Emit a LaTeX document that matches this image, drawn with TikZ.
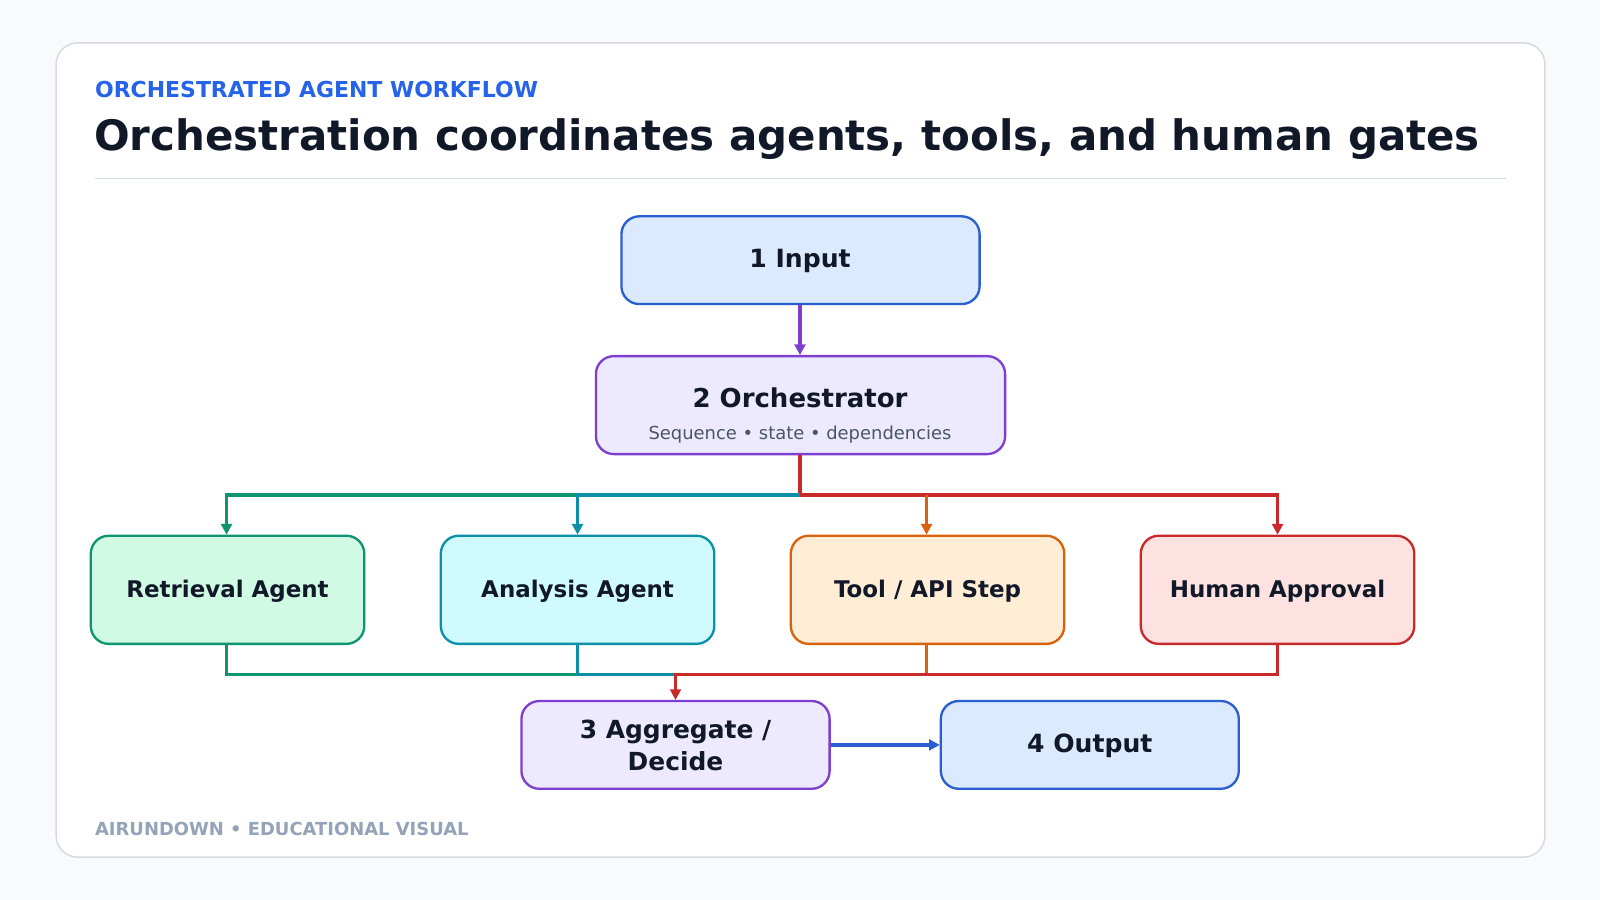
\documentclass[tikz,border=0pt]{standalone}
\usepackage{fontspec}
\setmainfont{DejaVu Sans}
\usetikzlibrary{arrows.meta}
\definecolor{bg}{HTML}{F8FAFC}
\definecolor{cardline}{HTML}{D5DAE1}
\definecolor{blueA}{HTML}{2B5FD0}
\definecolor{blueF}{HTML}{DBEAFE}
\definecolor{purA}{HTML}{7E3FD0}
\definecolor{purF}{HTML}{EDE9FE}
\definecolor{grnA}{HTML}{0E9470}
\definecolor{grnF}{HTML}{D1FAE5}
\definecolor{tealA}{HTML}{0E8FA8}
\definecolor{tealF}{HTML}{CFFAFE}
\definecolor{orA}{HTML}{D9620F}
\definecolor{orF}{HTML}{FFEDD5}
\definecolor{redA}{HTML}{C82A2A}
\definecolor{redF}{HTML}{FEE2E2}
\definecolor{ink}{HTML}{111827}
\definecolor{sub}{HTML}{4B5563}
\definecolor{foot}{HTML}{94A3B8}
\definecolor{kick}{HTML}{2563EB}
\begin{document}
\begin{tikzpicture}[x=0.02cm,y=-0.02cm,
  box/.style={draw=#1A,fill=#1F,line width=1.3pt,rounded corners=10pt},
  lbl/.style={font=\bfseries\fontsize{14}{18}\selectfont,text=ink,align=center},
  albl/.style={lbl,font=\bfseries\fontsize{12.8}{15}\selectfont},
  wire/.style={line width=1.8pt,color=#1},
  arr/.style={-{Triangle[length=6pt,width=6pt]}}]
\fill[bg] (0,0) rectangle (1568,882);
\useasboundingbox (0,0) rectangle (1568,882);
\draw[cardline,fill=white,line width=0.8pt,rounded corners=12pt] (55,42) rectangle (1514,840);
\node[anchor=west,text=kick,font=\bfseries\fontsize{12.25}{14}\selectfont] (kicker) at (87,88) {ORCHESTRATED AGENT WORKFLOW};
\node[anchor=west,text=ink,font=\bfseries\fontsize{23.4}{28}\selectfont] (title) at (86,136) {Orchestration coordinates agents, tools, and human gates};
\draw[cardline,line width=0.8pt] (93,175) -- (1476,175);
% boxes
\draw[box=blue] (609,212) rectangle (960,298); \node[lbl] (in) at (784,256) {1 Input};
\draw[box=pur] (584,349) rectangle (985,445);
\node[lbl,font=\bfseries\fontsize{14.5}{18}\selectfont] (orc) at (784,390) {2 Orchestrator};
\node[text=sub,font=\fontsize{10}{12}\selectfont] (orcs) at (784,426) {Sequence • state • dependencies};
\draw[box=grn] (89,525) rectangle (357,631); \node[albl] (ret) at (223,579) {Retrieval Agent};
\draw[box=teal] (432,525) rectangle (700,631); \node[albl] (ana) at (566,579) {Analysis Agent};
\draw[box=or] (775,525) rectangle (1043,631); \node[albl] (tool) at (909,579) {Tool / API Step};
\draw[box=red] (1118,525) rectangle (1386,631); \node[albl] (hum) at (1252,579) {Human Approval};
\draw[box=pur] (511,687) rectangle (813,773);
\node[text=ink,font=\bfseries\fontsize{13.9}{19}\selectfont] (agg) at (662,733) {\begin{tabular}{@{}c@{}}3 Aggregate /\\[-1pt]Decide\end{tabular}};
\draw[box=blue] (922,687) rectangle (1214,773); \node[lbl] (out) at (1068,731) {4 Output};
% connectors
\coordinate (j) at (784,485);
\draw[wire=purA,arr] (784,299) -- (784,348);
\draw[wire=redA] (784,446) -- (j);
\draw[wire=grnA,arr] (566,485) -- (222,485) -- (222,524);
\draw[wire=tealA,arr] (j) -- (566,485) -- (566,524);
\draw[wire=redA,arr] (j) -- (1252,485) -- (1252,524);
\draw[wire=orA,arr] (908,485) -- (908,524);
\draw[wire=grnA] (222,632) -- (222,661) -- (566,661);
\draw[wire=tealA] (566,632) -- (566,661) -- (662,661);
\draw[wire=orA] (908,632) -- (908,661);
\draw[wire=redA,arr] (1252,632) -- (1252,661) -- (662,661) -- (662,686);
\draw[wire=blueA,arr] (814,730) -- (921,730);
\node[anchor=west,text=foot,font=\bfseries\fontsize{10}{12}\selectfont] (ft) at (87,812) {AIRUNDOWN • EDUCATIONAL VISUAL};
\end{tikzpicture}
\end{document}
